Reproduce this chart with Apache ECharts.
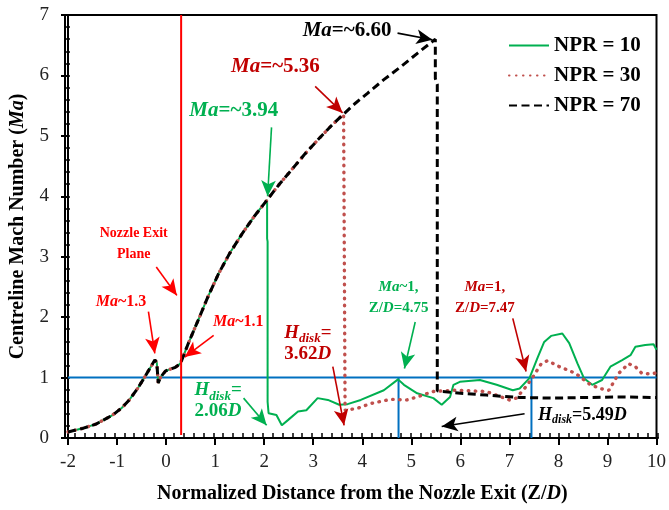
<!DOCTYPE html>
<html><head><meta charset="utf-8">
<script src="https://cdn.jsdelivr.net/npm/echarts@6/dist/echarts.min.js"></script>
<style>html,body{margin:0;padding:0;background:#fff}#c{width:669px;height:510px}</style>
</head><body><div id="c"></div>
<script>
const seriesNames = ['NPR = 10', 'NPR = 30', 'NPR = 70'];
const xTickLabels = [-2, -1, 0, 1, 2, 3, 4, 5, 6, 7, 8, 9, 10];
const yTickLabels = [0, 1, 2, 3, 4, 5, 6, 7];

// shared upstream curve (all NPR identical until the first Mach disk)
const upstream = [
  [-2.0,0.10],[-1.7,0.16],[-1.43,0.23],[-1.09,0.38],[-0.9,0.50],[-0.75,0.63],[-0.58,0.82],
  [-0.45,0.99],[-0.31,1.18],[-0.23,1.29],[-0.19,1.25],[-0.16,0.91],[-0.11,1.01],[-0.01,1.11],
  [0.19,1.17],[0.29,1.23],[0.36,1.37],[0.46,1.58],[0.66,1.96],[0.85,2.33],[1.07,2.72],
  [1.30,3.06],[1.55,3.38],[1.80,3.67],[2.06,3.94]
];
const expansion = [[2.30,4.19],[2.55,4.43],[2.82,4.69],[3.09,4.93],[3.36,5.16],[3.62,5.36]];
const expansion70 = [[3.86,5.54],[4.10,5.70],[4.44,5.93],[4.78,6.14],[5.13,6.37],[5.49,6.60]];
const npr10Tail = [
  [2.06,3.30],[2.07,3.25],[2.07,0.60],[2.09,0.41],[2.25,0.38],[2.36,0.21],[2.49,0.30],[2.69,0.44],
  [2.86,0.46],[3.09,0.66],[3.30,0.63],[3.53,0.55],[3.70,0.56],[3.97,0.63],[4.44,0.79],[4.73,0.97],
  [4.85,0.88],[5.12,0.74],[5.45,0.66],[5.62,0.55],[5.79,0.68],[5.86,0.88],[5.99,0.93],[6.40,0.96],
  [6.74,0.88],[7.07,0.79],[7.21,0.82],[7.41,0.99],[7.58,1.34],[7.71,1.59],[7.85,1.69],[8.08,1.73],
  [8.22,1.57],[8.39,1.23],[8.52,0.99],[8.69,0.88],[8.89,0.96],[9.06,1.18],[9.30,1.29],[9.47,1.37],
  [9.57,1.51],[9.77,1.54],[9.94,1.55],[10.0,1.46]
];
const npr30Tail = [
  [3.65,5.38],[3.65,0.46],[3.90,0.49],[4.17,0.57],[4.58,0.64],[4.91,0.63],[5.12,0.68],[5.45,0.77],
  [5.86,0.79],[6.53,0.77],[7.00,0.63],[7.14,0.66],[7.34,0.85],[7.48,1.01],[7.65,1.23],[7.78,1.28],
  [8.02,1.18],[8.35,1.07],[8.62,0.90],[8.83,0.82],[9.03,0.79],[9.23,1.07],[9.43,1.23],[9.57,1.18],
  [9.70,1.07],[9.90,1.06],[10.0,1.08]
];
const npr70Tail = [
  [5.49,5.95],[5.53,5.85],[5.53,0.78],[5.86,0.75],[6.53,0.71],[7.21,0.67],[7.88,0.66],[8.56,0.67],
  [9.23,0.68],[10.0,0.67]
];
const nozzleExitX = 0.35;
const sonicMa = 1;
const sonicCrossX = [4.74, 7.45];
const minorStep = 0.2;

const FONT = '"Liberation Serif","Times New Roman",serif';
const GREEN = '#00B050', DRED = '#C00000', RED = '#FF0000', BLUE = '#0070C0', DOT = '#C0504D';

const d10 = upstream.concat(npr10Tail);
const d30 = upstream.concat(expansion, npr30Tail);
const d70 = upstream.concat(expansion, expansion70, npr70Tail);

function richSet(color, size, lh) {
  const L = lh || size + 3;
  return {
    t: {fontFamily: FONT, fontWeight: 'bold', fontSize: size, color: color, lineHeight: L, verticalAlign: 'top'},
    i: {fontFamily: FONT, fontWeight: 'bold', fontStyle: 'italic', fontSize: size, color: color, lineHeight: L, verticalAlign: 'top'},
    s: {fontFamily: FONT, fontWeight: 'bold', fontStyle: 'italic', fontSize: Math.round(size * 0.68), color: color,
        lineHeight: Math.round(size * 0.68), padding: [Math.round(size * 0.45), 0, 0, 0], verticalAlign: 'top'}
  };
}
function note(x, y, text, color, size, lh) {
  return {
    coord: [x, y], symbol: 'circle', symbolSize: 1, itemStyle: {color: 'rgba(0,0,0,0)'},
    label: {show: true, position: 'inside', align: 'center', verticalAlign: 'middle',
      formatter: () => text, rich: richSet(color, size, lh)}
  };
}
function arrow(x1, y1, x2, y2, color) {
  return [
    {coord: [x1, y1], symbol: 'none', lineStyle: {color: color, width: 1.6, type: 'solid'}},
    {coord: [x2, y2], symbol: 'arrow', symbolSize: [11, 16], itemStyle: {color: color}}
  ];
}

const notes = [
  note(3.69, 6.71, '{i|Ma}{t|=~6.60}', '#000', 21),
  note(2.23, 6.12, '{i|Ma}{t|=~5.36}', DRED, 21),
  note(1.38, 5.39, '{i|Ma}{t|=~3.94}', GREEN, 21),
  note(-0.66, 3.15, '{t|Nozzle Exit}\n{t|Plane}', RED, 14, 21),
  note(-0.92, 2.23, '{i|Ma}{t|~1.3}', RED, 16),
  note(1.47, 1.90, '{i|Ma}{t|~1.1}', RED, 16),
  note(1.06, 0.60, '{i|H}{s|disk}{t|=}\n{t|2.06}{i|D}', GREEN, 19, 21),
  note(2.89, 1.55, '{i|H}{s|disk}{t|=}\n{t|3.62}{i|D}', DRED, 19, 21),
  note(4.74, 2.27, '{i|Ma}{t|~1,}\n{t|Z/}{i|D}{t|=4.75}', GREEN, 15, 21),
  note(6.50, 2.27, '{i|Ma}{t|=1,}\n{t|Z/}{i|D}{t|=7.47}', DRED, 15, 21),
  note(8.49, 0.35, '{i|H}{s|disk}{t|=5.49}{i|D}', '#000', 18)
];
const arrows = [
  arrow(4.72, 6.70, 5.43, 6.59, '#000'),
  arrow(3.04, 5.82, 3.60, 5.38, DRED),
  arrow(2.15, 5.14, 2.07, 4.00, GREEN),
  arrow(-0.20, 2.83, 0.22, 2.36, RED),
  arrow(-0.36, 2.09, -0.23, 1.40, RED),
  arrow(0.97, 1.70, 0.38, 1.34, RED),
  arrow(1.58, 0.66, 2.05, 0.21, GREEN),
  arrow(3.40, 1.18, 3.63, 0.21, DRED),
  arrow(5.08, 1.92, 4.86, 1.15, GREEN),
  arrow(7.07, 1.98, 7.34, 1.10, DRED),
  arrow(7.31, 0.40, 5.62, 0.19, '#000')
];

const gridBox = {left: 65, right: 11, top: 15, bottom: 72};

// main axes: line, labels, outer major ticks
const axisCommon = {
  axisLine: {show: true, onZero: false, lineStyle: {color: '#000', width: 2}},
  splitLine: {show: false},
  axisTick: {show: true, inside: false, length: 7, lineStyle: {color: '#000', width: 2}},
  axisLabel: {fontFamily: FONT, fontSize: 19, color: '#222'}
};
// second grid (same box) for the small inner ticks every minorStep
const innerTickAxis = {
  gridIndex: 1,
  axisLine: {show: true, onZero: false, lineStyle: {color: '#000', width: 2}},
  splitLine: {show: false}, axisLabel: {show: false},
  axisTick: {show: true, inside: true, length: 5, lineStyle: {color: '#000', width: 1.5}}
};

const chart = echarts.init(document.getElementById('c'), null, {renderer: 'canvas'});
chart.setOption({
  animation: false,
  backgroundColor: '#fff',
  grid: [
    Object.assign({show: true, borderColor: '#000', borderWidth: 2, backgroundColor: 'transparent'}, gridBox),
    Object.assign({show: false}, gridBox)
  ],
  legend: {
    data: seriesNames, orient: 'vertical', left: 503, top: 30, itemWidth: 40, itemHeight: 14, itemGap: 9,
    itemStyle: {opacity: 0},
    textStyle: {fontFamily: FONT, fontWeight: 'bold', fontSize: 21, color: '#000'}
  },
  xAxis: [
    Object.assign({}, axisCommon, {
      type: 'value', min: xTickLabels[0], max: xTickLabels[xTickLabels.length - 1], interval: 1, position: 'bottom',
      name: '{t|Normalized Distance from the Nozzle Exit (Z/}{i|D}{t|)}', nameLocation: 'middle', nameGap: 46,
      nameTextStyle: {rich: richSet('#000', 20)},
      axisLabel: Object.assign({}, axisCommon.axisLabel, {margin: 15})
    }),
    Object.assign({}, innerTickAxis, {type: 'value', min: xTickLabels[0], max: xTickLabels[xTickLabels.length - 1], interval: minorStep, position: 'bottom'})
  ],
  yAxis: [
    Object.assign({}, axisCommon, {
      type: 'value', min: yTickLabels[0], max: yTickLabels[yTickLabels.length - 1], interval: 1, position: 'left',
      name: '{t|Centreline Mach Number (}{i|Ma}{t|)}', nameLocation: 'middle', nameGap: 37, nameRotate: 90,
      nameTextStyle: {rich: richSet('#000', 20)},
      axisLabel: Object.assign({}, axisCommon.axisLabel, {margin: 19})
    }),
    Object.assign({}, innerTickAxis, {type: 'value', min: yTickLabels[0], max: yTickLabels[yTickLabels.length - 1], interval: minorStep, position: 'left'})
  ],
  series: [
    {name: 'sonic', type: 'line', data: [[xTickLabels[0], sonicMa], [xTickLabels[xTickLabels.length - 1], sonicMa]],
     symbol: 'none', lineStyle: {color: BLUE, width: 2}, silent: true, z: 2,
     markPoint: {silent: true, animation: false, data: notes},
     markLine: {silent: true, animation: false, symbol: ['none', 'arrow'], label: {show: false}, data: arrows}},
    {name: 'sonicA', type: 'line', data: [[sonicCrossX[0], 0], [sonicCrossX[0], sonicMa]], symbol: 'none', lineStyle: {color: BLUE, width: 2}, silent: true, z: 2},
    {name: 'sonicB', type: 'line', data: [[sonicCrossX[1], 0], [sonicCrossX[1], sonicMa]], symbol: 'none', lineStyle: {color: BLUE, width: 2}, silent: true, z: 2},
    {name: seriesNames[0], type: 'line', data: d10, symbol: 'none', color: GREEN, lineStyle: {color: GREEN, width: 2}, z: 3},
    {name: seriesNames[1], type: 'line', data: d30, symbol: 'none', color: DOT, lineStyle: {color: DOT, width: 3.4, type: [0.5, 6.5], cap: 'round'}, z: 4},
    {name: seriesNames[2], type: 'line', data: d70, symbol: 'none', color: '#000', lineStyle: {color: '#000', width: 3, type: [8, 4.5]}, z: 5},
    {name: 'nozzle', type: 'line', xAxisIndex: 1, yAxisIndex: 1,
     data: [[nozzleExitX, 0.05], [nozzleExitX, yTickLabels[yTickLabels.length - 1]]], symbol: 'none', lineStyle: {color: RED, width: 2}, silent: true, z: 6}
  ]
});
</script></body></html>
